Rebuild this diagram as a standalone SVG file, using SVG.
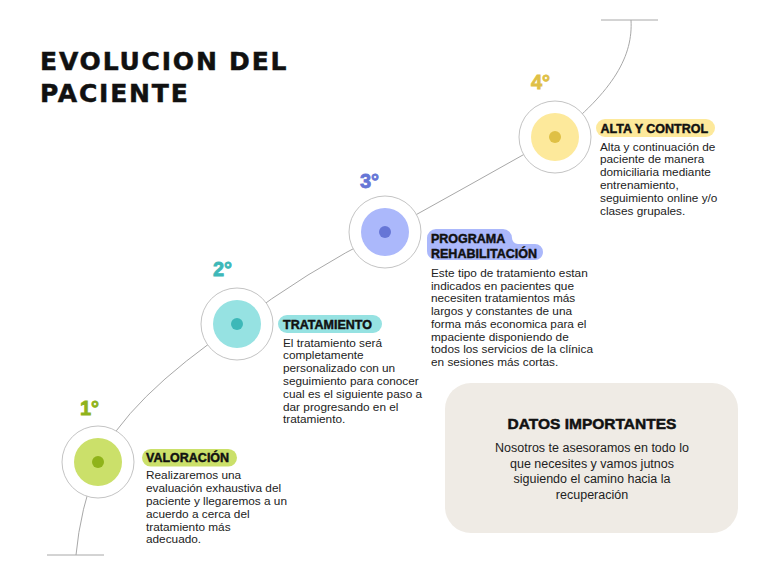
<svg xmlns="http://www.w3.org/2000/svg" width="768" height="576" viewBox="0 0 768 576">
<style>
.title{font-family:"DejaVu Sans","Liberation Sans",sans-serif;font-weight:bold;font-size:25px;letter-spacing:1.8px;fill:#111;stroke:#111;stroke-width:0.5}
.num{font-family:"Liberation Sans",Arial,sans-serif;font-weight:bold;font-size:20px;stroke-width:0.8}
.head{font-family:"Liberation Sans",Arial,sans-serif;font-weight:bold;font-size:12.5px;fill:#111;stroke:#111;stroke-width:0.45}
.body{font-family:"Liberation Sans",Arial,sans-serif;font-size:11.8px;fill:#222}
.ring{fill:#fff;stroke:#c4c4c4;stroke-width:1}
.conn{fill:none;stroke:#a8a8a8;stroke-width:1}
.dhead{font-family:"Liberation Sans",Arial,sans-serif;font-weight:bold;font-size:15.5px;fill:#111;stroke:#111;stroke-width:0.5;text-anchor:middle}
.dbody{font-family:"Liberation Sans",Arial,sans-serif;font-size:12.5px;fill:#222;text-anchor:middle}
</style>
<rect width="768" height="576" fill="#fff"/>
<g id="title">
<text class="title" x="40" y="70">EVOLUCION DEL</text>
<text class="title" x="40" y="102">PACIENTE</text>
</g>
<g id="connectors">
<line class="conn" x1="47" y1="555" x2="104" y2="555"/>
<line class="conn" x1="601" y1="20" x2="658" y2="20"/>
<path class="conn" d="M76,555 Q80,510 98,462 Q125,400 237,324 Q305,272 385,232 Q468,186 555,137 C615,90 633,55 631,20"/>
</g>
<g id="step1">
<circle class="ring" cx="98" cy="462" r="36"/>
<circle cx="98" cy="462" r="24" fill="#cbe06a"/>
<circle cx="98" cy="462" r="6" fill="#8fb31a"/>
<text class="num" x="80" y="415" fill="#8fb31a" stroke="#8fb31a">1°</text>
<rect x="142" y="449" width="95" height="17.5" rx="8.75" fill="#cbe06a"/>
<text class="head" x="146" y="462">VALORACIÓN</text>
<text class="body" x="146" y="479">Realizaremos una</text>
<text class="body" x="146" y="492">evaluación exhaustiva del</text>
<text class="body" x="146" y="505">paciente y llegaremos a un</text>
<text class="body" x="146" y="518">acuerdo a cerca del</text>
<text class="body" x="146" y="530.5">tratamiento más</text>
<text class="body" x="146" y="543">adecuado.</text>
</g>
<g id="step2">
<circle class="ring" cx="237" cy="324" r="36"/>
<circle cx="237" cy="324" r="24" fill="#96e2e2"/>
<circle cx="237" cy="324" r="6" fill="#3db8b8"/>
<text class="num" x="213" y="276" fill="#3db8b8" stroke="#3db8b8">2°</text>
<rect x="278" y="315" width="104" height="18" rx="9" fill="#96e2e2"/>
<text class="head" x="283" y="328.5">TRATAMIENTO</text>
<text class="body" x="283" y="346.5">El tratamiento será</text>
<text class="body" x="283" y="359.3">completamente</text>
<text class="body" x="283" y="372.1">personalizado con un</text>
<text class="body" x="283" y="384.9">seguimiento para conocer</text>
<text class="body" x="283" y="397.7">cual es el siguiente paso a</text>
<text class="body" x="283" y="410.5">dar progresando en el</text>
<text class="body" x="283" y="423.3">tratamiento.</text>
</g>
<g id="step3">
<circle class="ring" cx="385" cy="232" r="36"/>
<circle cx="385" cy="232" r="24" fill="#abb8fb"/>
<circle cx="385" cy="232" r="6" fill="#6676d6"/>
<text class="num" x="360" y="188" fill="#6676d6" stroke="#6676d6">3°</text>
<path d="M436,229 H503 A9,9 0 0 1 512,238 A6,6 0 0 0 518,244 H535 A8,8 0 0 1 543,252 A8,8 0 0 1 535,260 H436 A9,9 0 0 1 427,251 V238 A9,9 0 0 1 436,229 Z" fill="#abb8fb"/>
<text class="head" x="431" y="243">PROGRAMA</text>
<text class="head" x="431" y="257.5">REHABILITACIÓN</text>
<text class="body" x="431" y="277">Este tipo de tratamiento estan</text>
<text class="body" x="431" y="289.7">indicados en pacientes que</text>
<text class="body" x="431" y="302.4">necesiten tratamientos más</text>
<text class="body" x="431" y="315.1">largos y constantes de una</text>
<text class="body" x="431" y="327.8">forma más economica para el</text>
<text class="body" x="431" y="340.5">mpaciente disponiendo de</text>
<text class="body" x="431" y="353.2">todos los servicios de la clínica</text>
<text class="body" x="431" y="365.9">en sesiones más cortas.</text>
</g>
<g id="step4">
<circle class="ring" cx="555" cy="137" r="36"/>
<circle cx="555" cy="137" r="24" fill="#fde99b"/>
<circle cx="555" cy="137" r="6" fill="#dfc045"/>
<text class="num" x="531" y="89" fill="#dfc045" stroke="#dfc045">4°</text>
<rect x="596" y="119" width="119" height="18" rx="9" fill="#fde99b"/>
<text class="head" x="600.5" y="132.5">ALTA Y CONTROL</text>
<text class="body" x="600" y="150.5">Alta y continuación de</text>
<text class="body" x="600" y="163.3">paciente de manera</text>
<text class="body" x="600" y="176.1">domiciliaria mediante</text>
<text class="body" x="600" y="188.9">entrenamiento,</text>
<text class="body" x="600" y="201.7">seguimiento online y/o</text>
<text class="body" x="600" y="214.5">clases grupales.</text>
</g>
<g id="datos">
<rect x="445" y="383" width="293" height="150" rx="26" fill="#efebe5"/>
<text class="dhead" x="592" y="429">DATOS IMPORTANTES</text>
<text class="dbody" x="592" y="452">Nosotros te asesoramos en todo lo</text>
<text class="dbody" x="592" y="467.5">que necesites y vamos jutnos</text>
<text class="dbody" x="592" y="483">siguiendo el camino hacia la</text>
<text class="dbody" x="592" y="498.5">recuperación</text>
</g>
</svg>
